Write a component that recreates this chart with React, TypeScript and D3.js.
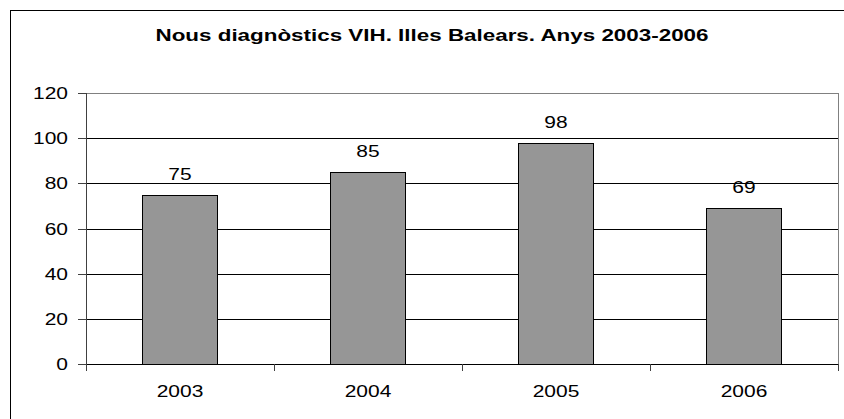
import * as d3 from "d3";
import React from "react";

const years = ["2003", "2004", "2005", "2006"];
const cases = [75, 85, 98, 69];
const yTicks = [0, 20, 40, 60, 80, 100, 120];
const title = "Nous diagnòstics VIH. Illes Balears. Anys 2003-2006";

const W = 844;
const H = 419;
const plot = {left: 86, top: 93, right: 838, bottom: 364};
const stretch = 1.31;
const font = "'Liberation Sans', Arial, sans-serif";

function Label({x, y, anchor, text, bold}: {x: number; y: number; anchor: string; text: string; bold?: boolean}) {
  return (
    <text
      transform={`translate(${x},${y}) scale(${stretch},1)`}
      textAnchor={anchor}
      fontFamily={font}
      fontSize={16}
      fontWeight={bold ? "bold" : "normal"}
      fill="#000"
    >
      {text}
    </text>
  );
}

export default function App() {
  const x = d3.scaleBand().domain(years).range([plot.left, plot.right]).paddingInner(0.6).paddingOuter(0.3);
  const band = d3.scaleBand().domain(years).range([plot.left, plot.right]);
  const y = d3.scaleLinear().domain([0, 120]).range([plot.bottom, plot.top]);

  return (
    <svg width={W} height={H} style={{position: "absolute", left: 0, top: 0, background: "#fff"}}>
      <rect x={10.5} y={10.5} width={840} height={420} fill="#fff" stroke="#000" />
      <text
        x={432}
        y={41}
        textAnchor="middle"
        fontFamily={font}
        fontSize={17}
        fontWeight="bold"
        textLength={553}
        lengthAdjust="spacingAndGlyphs"
      >
        {title}
      </text>

      {/* plot frame */}
      <rect x={plot.left + 0.5} y={plot.top + 0.5} width={plot.right - plot.left} height={plot.bottom - plot.top} fill="#fff" stroke="#808080" />

      {/* gridlines + y ticks */}
      {yTicks.map((t) => (
        <g key={t}>
          {t > 0 && t < 120 && (
            <line x1={plot.left} x2={plot.right} y1={Math.round(y(t)) + 0.5} y2={Math.round(y(t)) + 0.5} stroke="#000" />
          )}
          <line x1={78} x2={plot.left} y1={Math.round(y(t)) + 0.5} y2={Math.round(y(t)) + 0.5} stroke="#404040" />
          <Label x={68} y={y(t) + 6} anchor="end" text={String(t)} />
        </g>
      ))}

      {/* bars */}
      {years.map((yr, i) => (
        <g key={yr}>
          <rect
            x={Math.round(x(yr)!) + 0.5}
            y={Math.round(y(cases[i])) + 0.5}
            width={Math.round(x.bandwidth())}
            height={Math.round(plot.bottom - y(cases[i]))}
            fill="#969696"
            stroke="#000"
          />
          <Label x={x(yr)! + x.bandwidth() / 2} y={y(cases[i]) - 15} anchor="middle" text={String(cases[i])} />
          <Label x={band(yr)! + band.bandwidth() / 2} y={397} anchor="middle" text={yr} />
        </g>
      ))}

      {/* axes */}
      <line x1={plot.left + 0.5} x2={plot.left + 0.5} y1={plot.top} y2={plot.bottom} stroke="#404040" />
      <line x1={plot.left} x2={plot.right} y1={plot.bottom + 0.5} y2={plot.bottom + 0.5} stroke="#000" />
      {years.concat(["end"]).map((_, i) => {
        const tx = Math.round(plot.left + band.step() * i) + 0.5;
        return <line key={i} x1={tx} x2={tx} y1={plot.bottom} y2={plot.bottom + 7} stroke="#404040" />;
      })}
    </svg>
  );
}
